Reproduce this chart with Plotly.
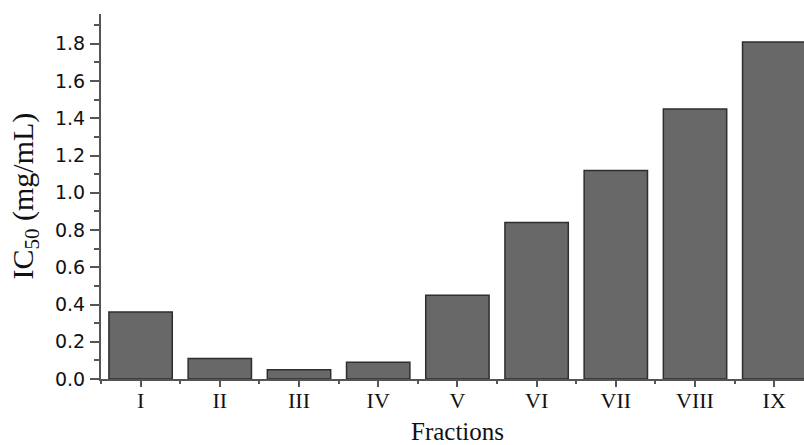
import plotly.graph_objects as go

categories = ["I", "II", "III", "IV", "V", "VI", "VII", "VIII", "IX"]
ic50 = [0.36, 0.11, 0.05, 0.09, 0.45, 0.84, 1.12, 1.45, 1.81]
positions = list(range(len(categories)))
y_ticks = [0.0, 0.2, 0.4, 0.6, 0.8, 1.0, 1.2, 1.4, 1.6, 1.8]
y_tick_text = [f"{v:.1f}" for v in y_ticks]

axis_color = "#555555"
text_color = "#111111"

fig = go.Figure()
fig.add_trace(go.Bar(
    x=positions, y=ic50, width=0.8,
    marker=dict(color="#686868", line=dict(color="#2e2e2e", width=1.5)),
))

fig.update_layout(
    width=804, height=445,
    margin=dict(l=101, r=0, t=14, b=66),
    paper_bgcolor="white", plot_bgcolor="white",
    showlegend=False,
    xaxis=dict(
        range=[-0.5, 8.376],
        tickvals=positions, ticktext=categories,
        ticks="outside", ticklen=6, tickwidth=1.5, tickcolor=axis_color,
        minor=dict(tick0=0.5, dtick=1, ticks="outside", ticklen=3, tickwidth=1.5, tickcolor=axis_color),
        showline=True, linecolor=axis_color, linewidth=2,
        showgrid=False, zeroline=False,
        ticklabelstandoff=-5,
        tickfont=dict(family="Liberation Serif", size=22, color=text_color),
    ),
    yaxis=dict(
        range=[0, 1.96],
        tickvals=y_ticks, ticktext=y_tick_text,
        ticks="outside", ticklen=9, tickwidth=1.5, tickcolor=axis_color,
        minor=dict(dtick=0.1, tick0=0, ticks="outside", ticklen=5, tickwidth=1.5, tickcolor=axis_color),
        showline=True, linecolor=axis_color, linewidth=2,
        showgrid=False, zeroline=False,
        ticklabelstandoff=1,
        tickfont=dict(family="DejaVu Sans", size=19, color=text_color),
    ),
    annotations=[
        dict(text="Fractions", x=4, xref="x", y=-0.1425, yref="paper",
             xanchor="center", yanchor="middle", showarrow=False,
             font=dict(family="Liberation Serif", size=25, color=text_color)),
        dict(text="IC<sub>50</sub> (mg/mL)", x=(24 - 101) / 703, xref="paper", y=0.5, yref="paper",
             xanchor="center", yanchor="middle", textangle=-90, showarrow=False,
             font=dict(family="Liberation Serif", size=30, color=text_color)),
    ],
)

fig.write_html("out.html")
